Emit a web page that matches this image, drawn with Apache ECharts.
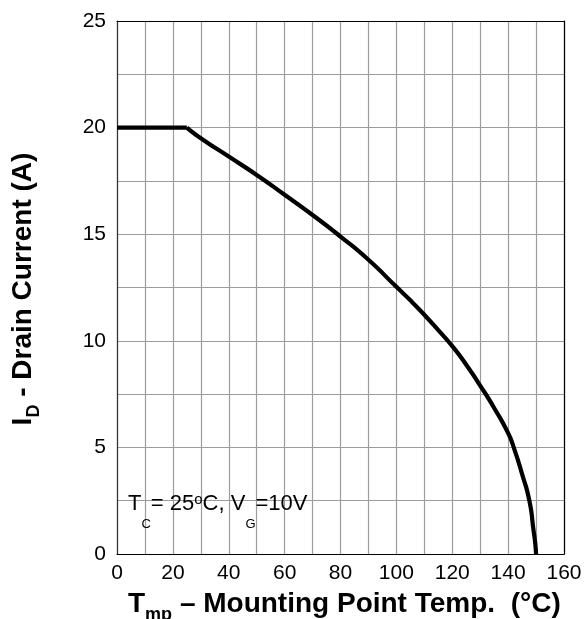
<!DOCTYPE html>
<html>
<head>
<meta charset="utf-8">
<script src="https://cdn.jsdelivr.net/npm/echarts@6/dist/echarts.min.js"></script>
<style>
html,body{margin:0;padding:0;background:#fff;}
#c{width:585px;height:619px;}
</style>
</head>
<body>
<div id="c"></div>
<script>
// Data
var flatTemp = [0, 25];
var flatDrain = [20, 20];
var tempC = [25, 30, 40, 50, 60, 70, 80, 90, 100, 105, 110, 115, 120, 125, 130, 135, 140, 142, 145, 147.6, 149.1, 149.7, 150];
var drainA = [20, 19.5, 18.64, 17.78, 16.85, 15.9, 14.89, 13.8, 12.53, 11.9, 11.22, 10.5, 9.75, 8.88, 7.9, 6.85, 5.67, 5.0, 3.75, 2.5, 1.1, 0.5, 0];
var xTicks = [0, 20, 40, 60, 80, 100, 120, 140, 160];
var yTicks = [0, 5, 10, 15, 20, 25];

var FONT = '"Liberation Sans", Arial, sans-serif';
var chart = echarts.init(document.getElementById('c'), null, {renderer: 'canvas'});
function zip(a, b) { return a.map(function (t, i) { return [t, b[i]]; }); }

var option = {
  backgroundColor: '#fff',
  animation: false,
  grid: {left: 117, right: 21, top: 21, bottom: 65, containLabel: false},
  xAxis: [{
    type: 'value', min: 0, max: 160, interval: 10,
    axisLine: {show: true, lineStyle: {color: '#000', width: 1.2}},
    axisTick: {show: false},
    splitLine: {show: true, lineStyle: {color: '#9c9c9c', width: 1.2}},
    axisLabel: {
      margin: 9, color: '#000', fontSize: 21, fontFamily: FONT,
      formatter: function (v) { return xTicks.indexOf(v) >= 0 ? String(v) : ''; }
    }
  }, {
    type: 'value', min: 0, max: 160, position: 'top',
    axisLine: {show: true, onZero: false, lineStyle: {color: '#000', width: 1.2}},
    axisTick: {show: false}, axisLabel: {show: false}, splitLine: {show: false}
  }],
  yAxis: [{
    type: 'value', min: 0, max: 25, interval: 2.5,
    axisLine: {show: true, lineStyle: {color: '#333', width: 1.2}},
    axisTick: {show: false},
    splitLine: {show: true, lineStyle: {color: '#9c9c9c', width: 1.2}},
    axisLabel: {
      margin: 11, color: '#000', fontSize: 21, fontFamily: FONT,
      formatter: function (v) { return yTicks.indexOf(v) >= 0 ? String(v) : ''; }
    }
  }, {
    type: 'value', min: 0, max: 25, position: 'right',
    axisLine: {show: true, onZero: false, lineStyle: {color: '#000', width: 1.2}},
    axisTick: {show: false}, axisLabel: {show: false}, splitLine: {show: false}
  }],
  series: [{
    type: 'line', xAxisIndex: 0, yAxisIndex: 0,
    data: zip(flatTemp, flatDrain), showSymbol: false, smooth: false,
    lineStyle: {color: '#000', width: 4.2, join: 'round'},
    z: 5
  }, {
    type: 'line', xAxisIndex: 0, yAxisIndex: 0,
    data: zip(tempC, drainA), showSymbol: false, smooth: 0.6,
    lineStyle: {color: '#000', width: 4.2, join: 'round'},
    z: 5
  }],
  graphic: [
    {
      type: 'text', left: 128, top: 492, z: 10,
      style: {
        text: '{m|T}{s|C}{m|= 25}{p|o}{m|C, V}{s|G}{m|=10V}',
        rich: {
          m: {fontSize: 22, fontFamily: FONT, fill: '#000', color: '#000', verticalAlign: 'top', lineHeight: 24},
          s: {fontSize: 13, fontFamily: FONT, fill: '#000', color: '#000', verticalAlign: 'bottom', lineHeight: 13, padding: [0, 0, -14, 0]},
          p: {fontSize: 15, fontFamily: FONT, fill: '#000', color: '#000', verticalAlign: 'top', lineHeight: 15, padding: [-1, 0, 0, 0]}
        }
      }
    },
    {
      type: 'text', left: 128, top: 590, z: 10,
      style: {
        text: '{b|T}{s|mp}{b| – Mounting Point Temp.  (°C)}',
        rich: {
          b: {fontSize: 28, fontWeight: 'bold', fontFamily: FONT, fill: '#000', color: '#000', verticalAlign: 'top', lineHeight: 30},
          s: {fontSize: 18, fontWeight: 'bold', fontFamily: FONT, fill: '#000', color: '#000', verticalAlign: 'bottom', lineHeight: 18, padding: [0, 0, -4, 0]}
        }
      }
    },
    {
      type: 'text', x: 24, y: 289, rotation: Math.PI / 2, z: 10,
      style: {
        text: '{b|I}{s|D}{b| - Drain Current (A)}',
        align: 'center', verticalAlign: 'middle',
        rich: {
          b: {fontSize: 28, fontWeight: 'bold', fontFamily: FONT, fill: '#000', color: '#000', verticalAlign: 'top', lineHeight: 30},
          s: {fontSize: 18, fontWeight: 'bold', fontFamily: FONT, fill: '#000', color: '#000', verticalAlign: 'bottom', lineHeight: 18, padding: [0, 0, -4, 0]}
        }
      }
    }
  ]
};
chart.setOption(option);
</script>
</body>
</html>
